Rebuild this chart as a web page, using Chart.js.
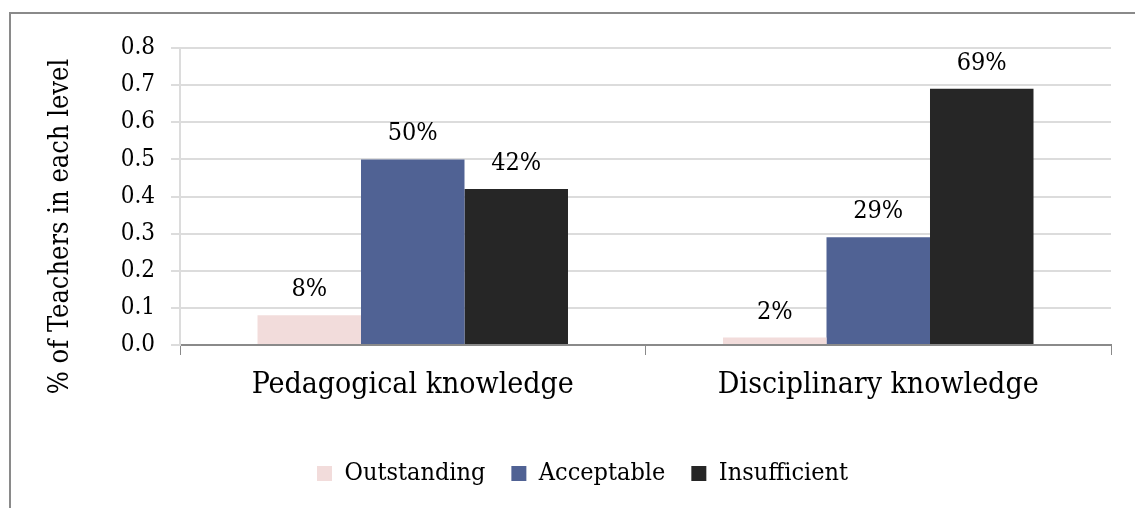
<!DOCTYPE html>
<html>
<head>
<meta charset="utf-8">
<script src="https://cdn.jsdelivr.net/npm/chart.js@4.4.1/dist/chart.umd.min.js"></script>
<style>
    html, body { margin: 0; padding: 0; background: #ffffff; }
    #wrap { position: relative; width: 1135px; height: 508px; }
</style>
</head>
<body>
<div id="wrap"><canvas id="levelChart" width="1135" height="508"></canvas></div>
<script>
// Chart data
const categories = ['Pedagogical knowledge', 'Disciplinary knowledge'];
const seriesNames = ['Outstanding', 'Acceptable', 'Insufficient'];
const outstanding = [0.08, 0.02];
const acceptable = [0.50, 0.29];
const insufficient = [0.42, 0.69];
const yTicks = [0.0, 0.1, 0.2, 0.3, 0.4, 0.5, 0.6, 0.7, 0.8];
const yTitle = '% of Teachers in each level';

const FONT = '"DejaVu Serif Condensed", "DejaVu Serif", serif';
const seriesColors = ['#f2dcdb', '#506294', '#262626'];

// Outer frame (only top and left edge are visible in the picture)
const framePlugin = {
    id: 'frame',
    beforeDraw(chart) {
        const ctx = chart.ctx;
        ctx.save();
        ctx.strokeStyle = '#8a8a8a';
        ctx.lineWidth = 2;
        ctx.beginPath();
        ctx.moveTo(chart.width, 13);
        ctx.lineTo(10, 13);
        ctx.lineTo(10, chart.height);
        ctx.stroke();
        ctx.restore();
    }
};

// Y axis title, sits a little below the axis middle
const yTitlePlugin = {
    id: 'yTitle',
    afterDraw(chart) {
        const ctx = chart.ctx;
        const area = chart.chartArea;
        ctx.save();
        ctx.translate(61, (area.top + area.bottom) / 2 + 30);
        ctx.rotate(-Math.PI / 2);
        ctx.font = '27px ' + FONT;
        ctx.fillStyle = '#000000';
        ctx.textAlign = 'center';
        ctx.textBaseline = 'middle';
        ctx.fillText(yTitle, 0, 0);
        ctx.restore();
    }
};

// Legend is a bit right of centre
const legendShiftPlugin = {
    id: 'legendShift',
    afterLayout(chart) {
        if (chart.legend) {
            chart.legend.left += 27;
            chart.legend.right += 27;
        }
    }
};

// Percent labels above each bar
const valueLabelPlugin = {
    id: 'valueLabels',
    afterDatasetsDraw(chart) {
        const ctx = chart.ctx;
        ctx.save();
        ctx.font = '25px ' + FONT;
        ctx.fillStyle = '#000000';
        ctx.textAlign = 'center';
        ctx.textBaseline = 'alphabetic';
        chart.data.datasets.forEach((dataset, i) => {
            const meta = chart.getDatasetMeta(i);
            meta.data.forEach((bar, j) => {
                const text = Math.round(dataset.data[j] * 100) + '%';
                ctx.fillText(text, bar.x, bar.y - 19);
            });
        });
        ctx.restore();
    }
};

const ctx = document.getElementById('levelChart');

new Chart(ctx, {
    type: 'bar',
    data: {
        labels: categories,
        datasets: [
            { label: seriesNames[0], data: outstanding, backgroundColor: seriesColors[0] },
            { label: seriesNames[1], data: acceptable, backgroundColor: seriesColors[1] },
            { label: seriesNames[2], data: insufficient, backgroundColor: seriesColors[2] }
        ]
    },
    options: {
        responsive: false,
        animation: false,
        devicePixelRatio: 1,
        layout: {
            padding: { top: 48, right: 24, bottom: 12, left: 0 }
        },
        datasets: {
            bar: {
                categoryPercentage: 0.667,
                barPercentage: 1.0,
                borderWidth: 0
            }
        },
        plugins: {
            tooltip: { enabled: false },
            legend: {
                position: 'bottom',
                labels: {
                    font: { family: FONT, size: 25 },
                    color: '#000000',
                    boxWidth: 15,
                    boxHeight: 15,
                    padding: 26
                }
            }
        },
        scales: {
            x: {
                grid: {
                    display: true,
                    drawOnChartArea: false,
                    drawTicks: true,
                    tickLength: 10,
                    color: '#8a8a8a',
                    offset: true
                },
                border: { display: true, color: '#8a8a8a', width: 2 },
                ticks: {
                    font: { family: FONT, size: 30 },
                    color: '#000000',
                    padding: 12,
                    maxRotation: 0
                },
                afterFit(scale) {
                    scale.height = 90;
                }
            },
            y: {
                min: 0,
                max: 0.8,
                afterBuildTicks(scale) {
                    scale.ticks = yTicks.map(v => ({ value: v }));
                },
                grid: {
                    color: '#dcdcdc',
                    lineWidth: 2,
                    tickLength: 9
                },
                border: { display: true, color: '#dcdcdc', width: 2 },
                ticks: {
                    font: { family: FONT, size: 24 },
                    color: '#000000',
                    padding: 16,
                    callback: (value) => Number(value).toFixed(1)
                },
                afterFit(scale) {
                    scale.width = 180;
                }
            }
        }
    },
    plugins: [framePlugin, yTitlePlugin, legendShiftPlugin, valueLabelPlugin]
});
</script>
</body>
</html>
